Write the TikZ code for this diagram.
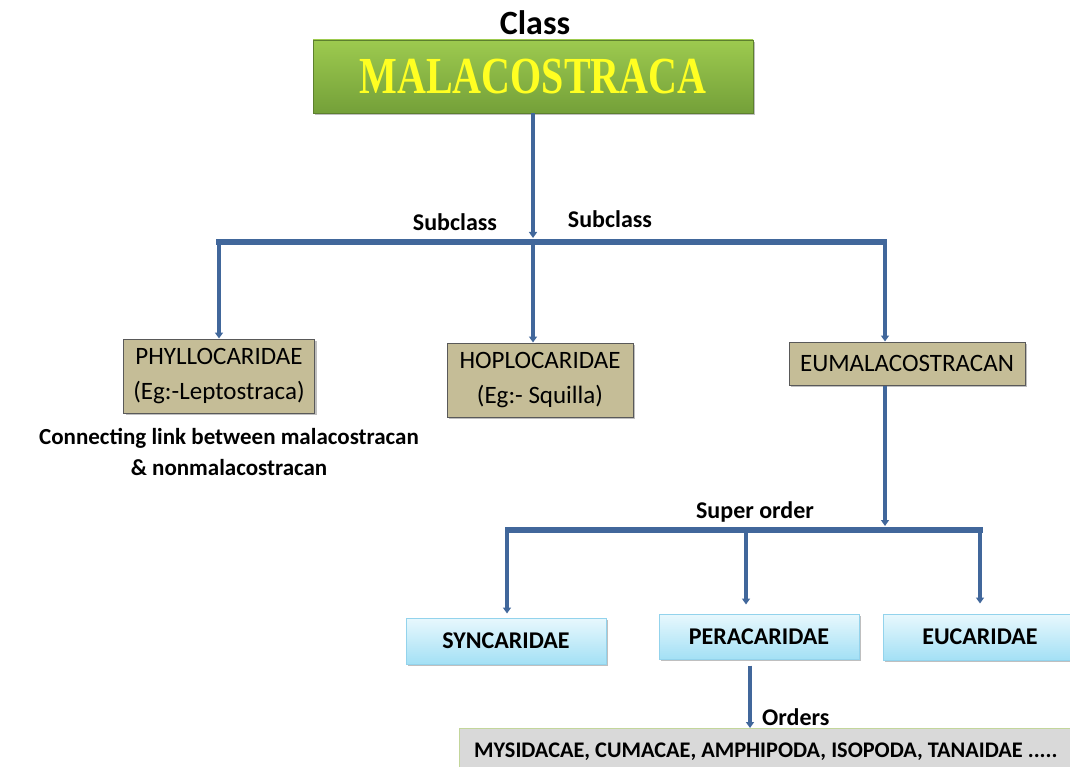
\documentclass[tikz,border=0pt]{standalone}
\usepackage{fontspec}
\setmainfont{Carlito}
\newfontfamily\titlefont{Liberation Serif}
\usetikzlibrary{arrows.meta,shadows}
\definecolor{lineblue}{HTML}{41679B}
\definecolor{tanfill}{HTML}{C5BD97}
\definecolor{tanedge}{HTML}{595959}
\definecolor{greentop}{HTML}{9DCA4F}
\definecolor{greenbot}{HTML}{74A039}
\definecolor{bluetop}{HTML}{E8F8FD}
\definecolor{bluebot}{HTML}{A3E0F5}
\definecolor{blueedge}{HTML}{93D3EC}
\definecolor{grayfill}{HTML}{D9D9D9}
\definecolor{grayedge}{HTML}{C3D69B}
\definecolor{titleyellow}{HTML}{FFFF22}
\newcommand{\fs}[1]{\fontsize{#1}{\fpeval{1.2*#1}}\selectfont}
\tikzset{
  shd/.style={drop shadow={shadow xshift=2pt,shadow yshift=-2pt,opacity=0.25,fill=black}},
  tanbox/.style={shd,draw=tanedge,line width=1pt,fill=tanfill,inner sep=0pt,align=center,font=\fs{25}},
  bluebox/.style={shd,draw=blueedge,line width=1pt,top color=bluetop,bottom color=bluebot,inner sep=0pt,font=\bfseries\fs{24}},
  lbl/.style={font=\bfseries\fs{24},inner sep=0pt},
  bar/.style={draw=lineblue,line width=6pt},
  conn/.style={draw=lineblue,line width=3.5pt},
  arr/.style={conn,-{Triangle[width=8pt,length=6pt]}},
}
\begin{document}
\begin{tikzpicture}[x=1pt,y=-1pt]
\useasboundingbox (0,0) rectangle (1070,767);
% title
\node[lbl,font=\bfseries\fs{34}] (class) at (535,23) {Class};
\node[shd,top color=greentop,bottom color=greenbot,draw=greenbot!80!black,line width=0.5pt,minimum width=440pt,minimum height=73pt,inner sep=0pt] (mal) at (533,76.5)
  {\titlefont\bfseries\fs{40}\color{titleyellow}\scalebox{1}[1.3]{MALACOSTRACA}};
% subclass level
\coordinate (b1l) at (216,242);
\coordinate (b1r) at (887,242);
\coordinate (j1) at (533,242);
\coordinate (a1) at (219,242);
\coordinate (a3) at (885,242);
\node[tanbox,minimum width=191pt,minimum height=74pt] (phyl) at (219,376) {PHYLLOCARIDAE\\[5pt](Eg:-Leptostraca)};
\node[tanbox,minimum width=186pt,minimum height=74pt] (hopl) at (540,380) {HOPLOCARIDAE\\[5pt](Eg:- Squilla)};
\node[tanbox,minimum width=236pt,minimum height=43pt] (euma) at (907,363.5) {EUMALACOSTRACAN};
\draw[arr,shorten >=4pt] (mal.south -| j1) -- (j1);
\draw[bar] (b1l) -- (b1r);
\draw[arr] (a1) -- (a1 |- phyl.north);
\draw[arr] (j1) -- (j1 |- hopl.north);
\draw[arr] (a3) -- (a3 |- euma.north);
\node[lbl,anchor=south] (sub1) at (455,231) {Subclass};
\node[lbl,anchor=south] (sub2) at (610,228) {Subclass};
\node[lbl,align=center,font=\bfseries\fs{23}] (link) at (229,452) {Connecting link between malacostracan\\[3pt]\& nonmalacostracan};
% super order level
\coordinate (b2l) at (505,530);
\coordinate (b2r) at (983,530);
\coordinate (j2) at (885,530);
\coordinate (c1) at (507,530);
\coordinate (c2) at (746,530);
\coordinate (c3) at (980,530);
\node[bluebox,minimum width=200pt,minimum height=46pt] (sync) at (506,641) {SYNCARIDAE};
\node[bluebox,minimum width=200pt,minimum height=45pt] (pera) at (759,636.5) {PERACARIDAE};
\node[bluebox,minimum width=194pt,minimum height=46pt] (euca) at (980,637) {EUCARIDAE};
\draw[arr,shorten >=4pt] (euma.south -| j2) -- (j2);
\draw[bar] (b2l) -- (b2r);
\draw[arr] (c1) -- ([yshift=4pt]c1 |- sync.north);
\draw[arr] (c2) -- ([yshift=9pt]c2 |- pera.north);
\draw[arr] (c3) -- ([yshift=10pt]c3 |- euca.north);
\node[lbl,anchor=south] (super) at (755,522) {Super order};
% orders
\node[draw=grayedge,line width=1pt,fill=grayfill,minimum width=620pt,minimum height=48pt,anchor=north west,inner sep=0pt] (orders) at (459,728) {};
\node[lbl,font=\bfseries\fs{22.3},anchor=west] (otext) at (474,752) {MYSIDACAE, CUMACAE, AMPHIPODA, ISOPODA, TANAIDAE .....};
\coordinate (c4) at (750,636.5);
\draw[arr] (c4 |- pera.south) ++(0,6) -- (c4 |- orders.north);
\node[lbl,anchor=west] (ordl) at (762,717) {Orders};
\end{tikzpicture}
\end{document}
